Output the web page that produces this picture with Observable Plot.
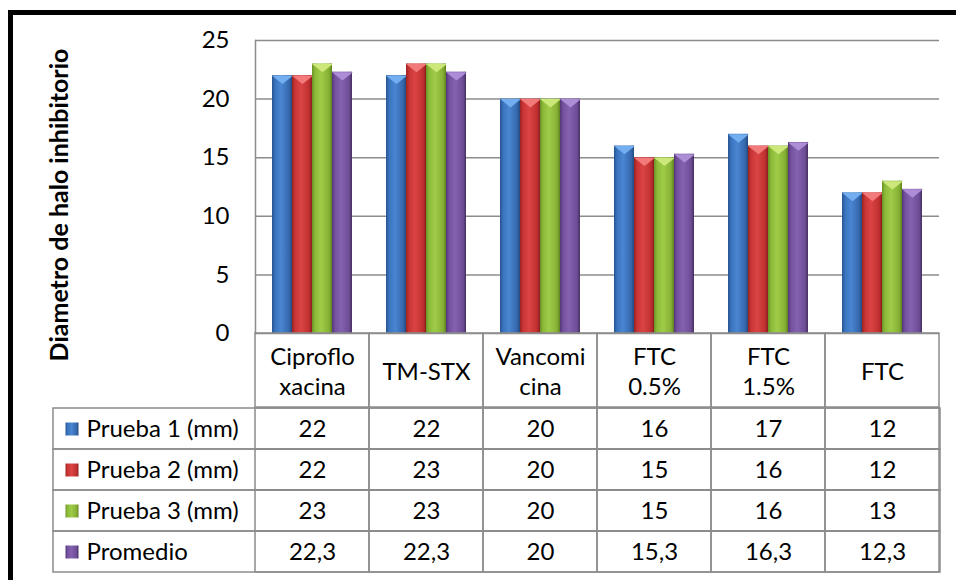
<!DOCTYPE html>
<html><head><meta charset="utf-8">
<script src="https://cdn.jsdelivr.net/npm/d3@7"></script>
<script src="https://cdn.jsdelivr.net/npm/@observablehq/plot@0.6"></script>
<style>
body{margin:0;background:#fff;width:956px;height:580px;overflow:hidden;position:relative;font-family:Lato,sans-serif}
#frame{position:absolute;left:8px;top:10px;width:960px;height:580px;border-top:5px solid #000;border-left:5px solid #000;}
.layer{position:absolute;left:0;top:0}
#ytitle{position:absolute;left:58px;top:205px;transform:translate(-50%,-50%) rotate(-90deg);font-weight:bold;font-size:25px;white-space:nowrap;color:#000;font-family:Lato,sans-serif}
</style></head>
<body>
<div id="frame"></div>
<svg width="0" height="0" style="position:absolute">
<defs>
<linearGradient id="grad0" x1="0" x2="1" y1="0" y2="0">
<stop offset="0" stop-color="#25558f"/><stop offset="0.15" stop-color="#3a72bd"/><stop offset="0.45" stop-color="#4a86d2"/><stop offset="0.85" stop-color="#3568ad"/><stop offset="1" stop-color="#24497c"/>
</linearGradient>
<linearGradient id="grad1" x1="0" x2="1" y1="0" y2="0">
<stop offset="0" stop-color="#9a2222"/><stop offset="0.15" stop-color="#c93434"/><stop offset="0.45" stop-color="#db4444"/><stop offset="0.85" stop-color="#c03030"/><stop offset="1" stop-color="#8a1e1e"/>
</linearGradient>
<linearGradient id="grad2" x1="0" x2="1" y1="0" y2="0">
<stop offset="0" stop-color="#6a9226"/><stop offset="0.15" stop-color="#8cba38"/><stop offset="0.45" stop-color="#9fcc48"/><stop offset="0.85" stop-color="#86b034"/><stop offset="1" stop-color="#5e8220"/>
</linearGradient>
<linearGradient id="grad3" x1="0" x2="1" y1="0" y2="0">
<stop offset="0" stop-color="#523676"/><stop offset="0.15" stop-color="#74509e"/><stop offset="0.45" stop-color="#8562b0"/><stop offset="0.85" stop-color="#6e4c96"/><stop offset="1" stop-color="#45305f"/>
</linearGradient>
</defs>
</svg>
<div id="ytitle">Diametro de halo inhibitorio</div>
<div id="chart" class="layer"></div>
<div id="head" class="layer"></div>
<div id="body" class="layer"></div>
<script>
const categories = ["Ciprofloxacina", "TM-STX", "Vancomicina", "FTC 0.5%", "FTC 1.5%", "FTC"];
const categoryLabels = ["Ciproflo\nxacina", "TM-STX", "Vancomi\ncina", "FTC\n0.5%", "FTC\n1.5%", "FTC"];
const series = ["Prueba 1 (mm)", "Prueba 2 (mm)", "Prueba 3 (mm)", "Promedio"];
const prueba1 = [22, 22, 20, 16, 17, 12];
const prueba2 = [22, 23, 20, 15, 16, 12];
const prueba3 = [23, 23, 20, 15, 16, 13];
const promedio = [22.3, 22.3, 20, 15.3, 16.3, 12.3];
const yTicks = [0, 5, 10, 15, 20, 25];

const seriesValues = [prueba1, prueba2, prueba3, promedio];
const barFills = ["url(#grad0)", "url(#grad1)", "url(#grad2)", "url(#grad3)"];
const bevelFills = ["#72aef0", "#f27a7a", "#cde87a", "#ad8ed6"];
const gridColor = "#8c8c8c";
const font = "Lato, sans-serif";
const fs = 24;

const rows = [];
series.forEach((s, si) => categories.forEach((c, ci) => rows.push({series: s, si, category: c, value: seriesValues[si][ci]})));

const bevel = {
  draw(ctx, size) {
    const w = Math.sqrt(size);
    ctx.moveTo(-w / 2, 0);
    ctx.lineTo(w / 2, 0);
    ctx.lineTo(0, w * 0.4);
    ctx.closePath();
  }
};

const barMarks = [];
series.forEach((s, si) => {
  const d = rows.filter(r => r.si === si);
  barMarks.push(Plot.barY(d, {fx: "category", x: "series", y: "value", fill: barFills[si]}));
  barMarks.push(Plot.dot(d, {fx: "category", x: "series", y: "value", symbol: bevel, r: 11.8, fill: bevelFills[si], stroke: "none"}));
});

const chart = Plot.plot({
  width: 956, height: 333,
  marginTop: 40, marginBottom: 0, marginLeft: 253, marginRight: 16,
  fx: {domain: categories, padding: 0, axis: null},
  x: {domain: series, paddingInner: 0, paddingOuter: 0.73, axis: null},
  y: {domain: [0, 25], ticks: yTicks},
  style: {background: "transparent", overflow: "visible", fontFamily: font, fontSize: fs + "px", color: "#000"},
  marks: [
    Plot.gridY(yTicks, {stroke: gridColor, strokeOpacity: 1, strokeWidth: 1.5}),
    Plot.frame({anchor: "left", facetAnchor: "left", stroke: gridColor, strokeWidth: 1.5}),
    ...barMarks,
    Plot.axisY(yTicks, {tickSize: 0, tickPadding: 26, fontSize: fs, label: null, fill: "#000"})
  ]
});
document.getElementById("chart").append(chart);

const head = Plot.plot({
  width: 956, height: 407,
  marginTop: 333, marginBottom: 0, marginLeft: 253, marginRight: 16,
  x: {domain: categories, padding: 0, axis: null},
  style: {background: "transparent", overflow: "visible", fontFamily: font, fontSize: fs + "px", color: "#000"},
  marks: [
    Plot.cell(categories, {x: d => d, fill: "none", stroke: gridColor, strokeWidth: 1.5}),
    Plot.text(categories, {x: d => d, text: (d, i) => categoryLabels[i], frameAnchor: "middle", lineHeight: 1.25, fontSize: fs, fill: "#000"})
  ]
});
document.getElementById("head").append(head);

const fmt = v => String(v).replace(".", ",");
const body = Plot.plot({
  width: 956, height: 580,
  marginTop: 407, marginBottom: 8, marginLeft: 53, marginRight: 16,
  x: {domain: categories, range: [253, 940], padding: 0, axis: null},
  y: {domain: series, padding: 0, axis: null},
  style: {background: "transparent", overflow: "visible", fontFamily: font, fontSize: fs + "px", color: "#000"},
  marks: [
    Plot.cell(series, {y: d => d, fill: "none", stroke: gridColor, strokeWidth: 1.5}),
    Plot.cell(rows, {x: "category", y: "series", fill: "none", stroke: gridColor, strokeWidth: 1.5}),
    Plot.text(rows, {x: "category", y: "series", text: d => fmt(d.value), fontSize: fs, fill: "#000"}),
    Plot.dot(series, {y: d => d, frameAnchor: "left", dx: 18.5, symbol: "square", r: 7.33, fill: (d, i) => barFills[i], stroke: "none"}),
    Plot.text(series, {y: d => d, frameAnchor: "left", dx: 33, textAnchor: "start", text: d => d, fontSize: fs, fill: "#000"})
  ]
});
document.getElementById("body").append(body);
</script>
</body></html>
